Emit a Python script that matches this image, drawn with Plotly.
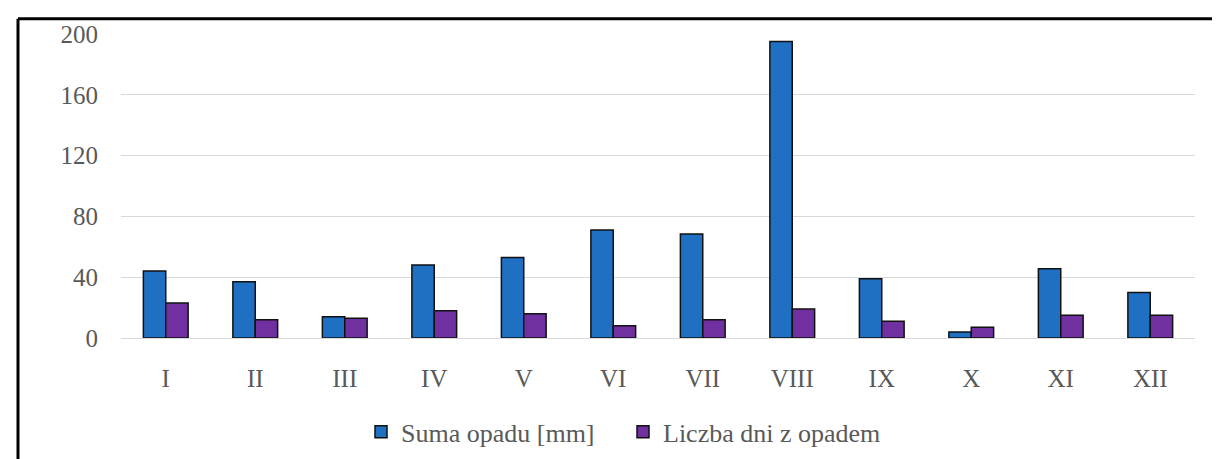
import plotly.graph_objects as go

months = ["I", "II", "III", "IV", "V", "VI", "VII", "VIII", "IX", "X", "XI", "XII"]
suma_opadu = [44, 37, 14, 48, 53, 71, 68.5, 195, 39, 4, 45.5, 30]
liczba_dni = [23, 12, 13, 18, 16, 8, 12, 19, 11, 7, 15, 15]
y_ticks = [0, 40, 80, 120, 160, 200]

FONT = "Liberation Serif, Times New Roman, serif"
GRAY = "#595959"

fig = go.Figure()
fig.add_trace(go.Bar(
    x=months, y=suma_opadu, name="Suma opadu [mm]",
    marker=dict(color="#1F6FC3", line=dict(color="#111111", width=1.5)),
))
fig.add_trace(go.Bar(
    x=months, y=liczba_dni, name="Liczba dni z opadem",
    marker=dict(color="#7030A0", line=dict(color="#111111", width=1.5)),
))

fig.update_layout(
    width=1220, height=459,
    margin=dict(l=113, r=33, t=26, b=116),
    paper_bgcolor="white", plot_bgcolor="white",
    barmode="group", bargap=0.5, bargroupgap=0,
    font=dict(family=FONT, size=25, color=GRAY),
    showlegend=True,
    legend=dict(
        orientation="h", x=(353 - 113) / 1074, xanchor="left",
        y=-0.309, yanchor="middle",
        font=dict(family=FONT, size=26, color=GRAY),
        bgcolor="rgba(0,0,0,0)", itemwidth=30, entrywidth=217,
    ),
    xaxis=dict(
        showgrid=False, showline=False, zeroline=False, ticks="",
        ticklabelstandoff=23,
        tickfont=dict(family=FONT, size=25, color=GRAY),
    ),
    yaxis=dict(
        range=[0, 200], tickvals=y_ticks, showgrid=True, gridcolor="#D9D9D9",
        gridwidth=1.2, zeroline=True, zerolinecolor="#D9D9D9", zerolinewidth=1.2,
        showline=False, ticks="", ticklabelstandoff=22,
        tickfont=dict(family=FONT, size=25, color=GRAY),
    ),
    shapes=[
        dict(type="line", xref="paper", yref="paper",
             x0=(10 - 113) / 1074, x1=(10 - 113) / 1074,
             y0=(343 - 470) / 317, y1=1 + (26 - 10) / 317,
             line=dict(color="black", width=3)),
        dict(type="line", xref="paper", yref="paper",
             x0=(10 - 113) / 1074, x1=(1230 - 113) / 1074,
             y0=1 + (26 - 10) / 317, y1=1 + (26 - 10) / 317,
             line=dict(color="black", width=3)),
    ],
)

fig.write_html("out.html")
